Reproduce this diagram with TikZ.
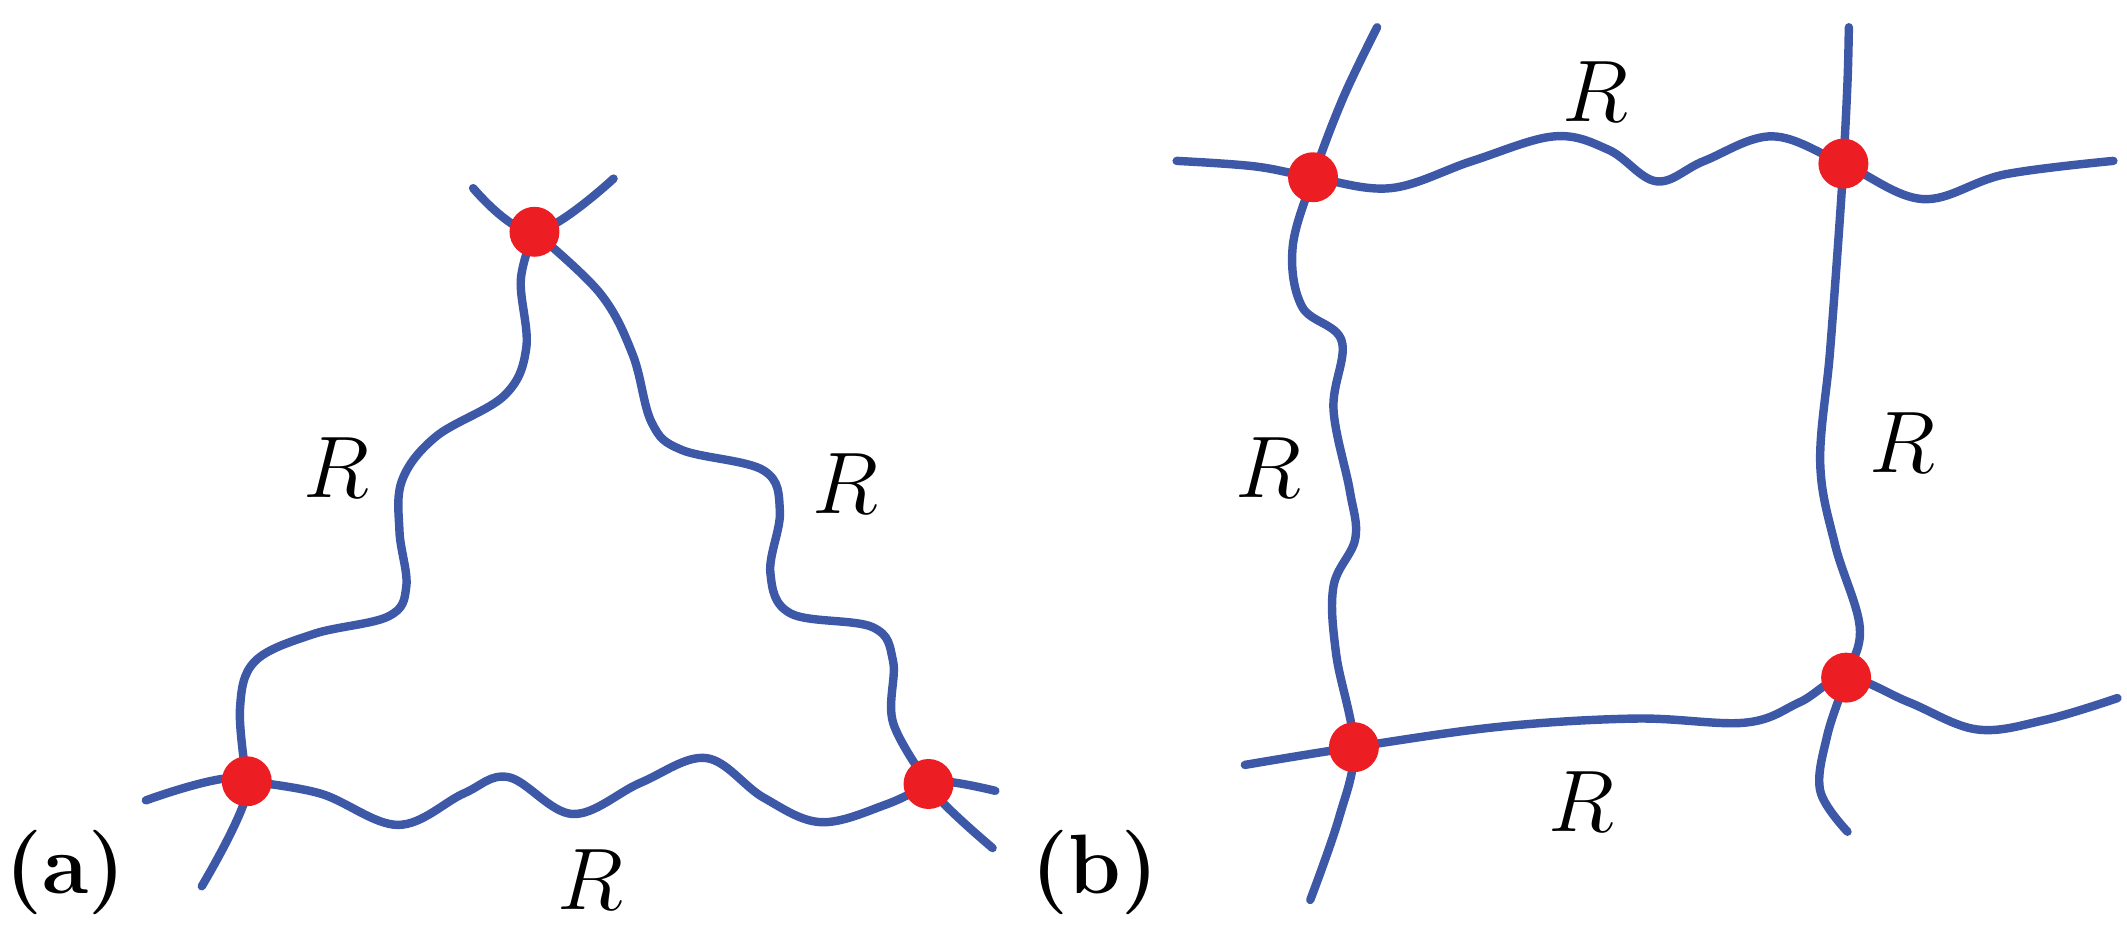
\documentclass[tikz,border=0pt]{standalone}
\begin{document}
\begin{tikzpicture}[x=0.013635cm,y=-0.013635cm,
  wire/.style={draw=wireblue,line width=2.4pt,line cap=round},
  dot/.style={circle,fill=dotred,minimum size=0.5cm,inner sep=0pt},
  lab/.style={font=\fontsize{24}{28}\selectfont},
  panel/.style={font=\fontsize{24}{28}\selectfont\bfseries}]
\definecolor{wireblue}{RGB}{62,88,168}
\definecolor{dotred}{RGB}{236,30,36}
\useasboundingbox (0,0) rectangle (1560,686.5);
% panel a
\draw[wire] plot[smooth,tension=0.6] coordinates {(347,138) (392,170) (450,131)};
\draw[wire] plot[smooth,tension=0.6] coordinates {(392,170) (382,205) (386,255) (370,290) (320,320) (295,352) (293,390) (298,430) (285,452) (230,465) (187,485) (176,520) (181,573)};
\draw[wire] plot[smooth,tension=0.6] coordinates {(392,170) (440,215) (464,260) (478,310) (500,330) (560,345) (572,375) (565,420) (580,450) (640,460) (655,485) (655,530) (681,575)};
\draw[wire] plot[smooth,tension=0.6] coordinates {(181,573) (235,582) (292,605) (340,582) (373,570) (420,597) (470,574) (518,556) (560,585) (602,603) (650,590) (681,575)};
\draw[wire] plot[smooth,tension=0.6] coordinates {(107,587) (181,573) (148,650)};
\draw[wire] plot[smooth,tension=0.6] coordinates {(730,580) (681,575) (728,622)};
\node[dot] (a1) at (392,170) {};
\node[dot] (a2) at (181,573) {};
\node[dot] (a3) at (681,575) {};
\node[lab] (ra1) at (247,343) {$R$};
\node[lab] (ra2) at (620,355) {$R$};
\node[lab] (ra3) at (433,645) {$R$};
\node[panel] (pa) at (48,640) {(a)};
% panel b
\draw[wire] plot[smooth,tension=0.6] coordinates {(863,118) (920,122) (963,130) (1020,138) (1080,118) (1140,100) (1180,110) (1215,133) (1250,118) (1300,100) (1352,120) (1410,146) (1470,128) (1550,118)};
\draw[wire] plot[smooth,tension=0.6] coordinates {(1010,20) (985,72) (963,130) (948,182) (955,225) (984,250) (978,300) (990,360) (994,395) (978,430) (980,480) (993,548) (982,600) (961,660)};
\draw[wire] plot[smooth,tension=0.6] coordinates {(1356,20) (1355,60) (1352,120) (1348,180) (1342,260) (1335,340) (1346,400) (1364,460) (1354,497) (1340,540) (1335,580) (1355,610)};
\draw[wire] plot[smooth,tension=0.6] coordinates {(913,561) (993,548) (1100,533) (1200,527) (1280,530) (1320,515) (1354,497) (1400,515) (1450,535) (1500,528) (1553,512)};
\node[dot] (b1) at (963,130) {};
\node[dot] (b2) at (1352,120) {};
\node[dot] (b3) at (1354,497) {};
\node[dot] (b4) at (993,548) {};
\node[lab] (rb1) at (1170,67) {$R$};
\node[lab] (rb2) at (930,343) {$R$};
\node[lab] (rb3) at (1395,325) {$R$};
\node[lab] (rb4) at (1160,588) {$R$};
\node[panel] (pb) at (803,640) {(b)};
\end{tikzpicture}
\end{document}
